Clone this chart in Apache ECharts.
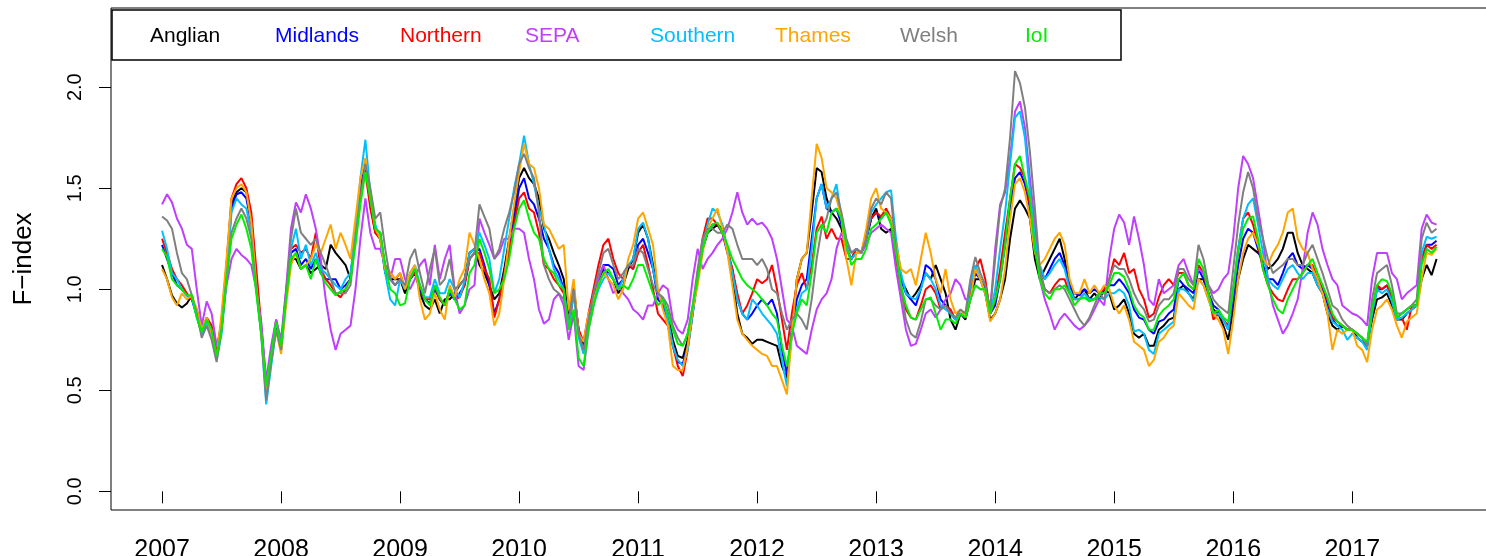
<!DOCTYPE html>
<html>
<head>
<meta charset="utf-8">
<script src="https://cdn.jsdelivr.net/npm/echarts@6/dist/echarts.min.js"></script>
<style>
html, body { margin: 0; padding: 0; background: #fff; }
#main { width: 1486px; height: 556px; }
</style>
</head>
<body>
<div id="main"></div>
<script>
// regions and tick labels
var names = ['Anglian', 'Midlands', 'Northern', 'SEPA', 'Southern', 'Thames', 'Welsh', 'IoI'];
var years = [2007, 2008, 2009, 2010, 2011, 2012, 2013, 2014, 2015, 2016, 2017];
var yTicks = [0, 0.5, 1, 1.5, 2];

var anglian = [
  1.12, 1.05, 0.97, 0.93, 0.91, 0.93, 0.97, 0.88, 0.78, 0.84, 0.80, 0.68, 0.85, 1.12, 1.42, 1.48, 1.50, 1.48, 1.35, 1.05, 0.80, 0.50, 0.65, 0.82,
  0.72, 0.95, 1.15, 1.15, 1.10, 1.12, 1.08, 1.10, 1.12, 1.10, 1.22, 1.18, 1.15, 1.12, 1.05, 1.30, 1.50, 1.60, 1.42, 1.28, 1.25, 1.08, 1.05, 1.05,
  1.05, 0.98, 1.05, 1.10, 0.98, 0.92, 0.90, 0.95, 0.88, 0.95, 0.95, 0.98, 1.02, 1.05, 1.18, 1.20, 1.12, 1.08, 1.02, 0.95, 0.98, 1.10, 1.25, 1.40,
  1.55, 1.60, 1.55, 1.52, 1.45, 1.30, 1.25, 1.18, 1.12, 1.05, 0.85, 1.00, 0.80, 0.72, 0.85, 0.95, 1.02, 1.10, 1.08, 1.05, 0.98, 1.02, 1.10, 1.15,
  1.28, 1.32, 1.25, 1.12, 0.98, 0.95, 0.88, 0.75, 0.67, 0.66, 0.75, 0.90, 1.05, 1.20, 1.28, 1.30, 1.32, 1.30, 1.20, 1.05, 0.88, 0.78, 0.76, 0.73,
  0.75, 0.75, 0.74, 0.73, 0.72, 0.62, 0.56, 0.78, 1.05, 1.15, 1.18, 1.38, 1.60, 1.58, 1.45, 1.38, 1.35, 1.30, 1.20, 1.15, 1.20, 1.18, 1.25, 1.35,
  1.40, 1.30, 1.28, 1.30, 1.18, 1.05, 1.00, 0.95, 0.98, 1.02, 1.08, 1.05, 1.12, 1.05, 0.98, 0.85, 0.80, 0.88, 0.85, 0.95, 1.05, 1.05, 0.98, 0.85,
  0.88, 0.95, 1.05, 1.25, 1.40, 1.44, 1.40, 1.35, 1.15, 1.05, 1.10, 1.15, 1.20, 1.25, 1.15, 1.02, 0.95, 0.98, 1.00, 0.95, 0.98, 0.95, 1.00, 0.98,
  0.90, 0.92, 0.95, 0.88, 0.78, 0.76, 0.78, 0.72, 0.72, 0.80, 0.82, 0.85, 0.86, 1.00, 1.02, 0.98, 0.95, 1.05, 1.05, 0.98, 0.90, 0.88, 0.82, 0.75,
  0.90, 1.05, 1.15, 1.22, 1.20, 1.18, 1.15, 1.10, 1.12, 1.15, 1.20, 1.28, 1.28, 1.18, 1.12, 1.10, 1.08, 1.02, 0.98, 0.88, 0.82, 0.80, 0.82, 0.80,
  0.80, 0.76, 0.74, 0.72, 0.85, 0.95, 0.96, 0.98, 0.92, 0.85, 0.85, 0.88, 0.90, 0.92, 1.05, 1.12, 1.07, 1.15
];
var midlands = [
  1.22, 1.15, 1.08, 1.02, 1.00, 0.97, 0.95, 0.87, 0.78, 0.85, 0.78, 0.66, 0.80, 1.08, 1.40, 1.47, 1.48, 1.45, 1.32, 1.02, 0.80, 0.48, 0.65, 0.82,
  0.70, 0.95, 1.18, 1.20, 1.12, 1.15, 1.10, 1.15, 1.08, 1.05, 1.05, 1.05, 1.00, 1.02, 1.05, 1.30, 1.50, 1.62, 1.45, 1.30, 1.28, 1.10, 1.05, 1.02,
  1.05, 1.00, 1.05, 1.08, 1.00, 0.95, 0.93, 1.00, 0.95, 0.92, 0.98, 0.95, 0.98, 1.02, 1.15, 1.18, 1.20, 1.12, 1.02, 0.88, 0.95, 1.08, 1.20, 1.35,
  1.50, 1.55, 1.45, 1.42, 1.35, 1.25, 1.20, 1.12, 1.08, 1.00, 0.82, 1.02, 0.78, 0.70, 0.85, 0.95, 1.05, 1.12, 1.12, 1.10, 1.02, 1.05, 1.12, 1.10,
  1.22, 1.25, 1.18, 1.10, 0.95, 0.92, 0.85, 0.72, 0.64, 0.63, 0.72, 0.88, 1.05, 1.20, 1.28, 1.32, 1.32, 1.28, 1.18, 1.10, 0.95, 0.88, 0.85, 0.88,
  0.92, 0.95, 0.92, 0.95, 0.88, 0.70, 0.58, 0.80, 0.95, 1.02, 1.05, 1.25, 1.45, 1.52, 1.40, 1.38, 1.40, 1.32, 1.20, 1.15, 1.18, 1.18, 1.25, 1.35,
  1.38, 1.35, 1.38, 1.35, 1.20, 1.05, 0.98, 0.95, 0.92, 1.00, 1.12, 1.10, 1.05, 0.95, 0.92, 0.88, 0.85, 0.88, 0.86, 0.98, 1.08, 1.05, 1.00, 0.88,
  0.92, 1.05, 1.22, 1.40, 1.55, 1.58, 1.52, 1.40, 1.22, 1.10, 1.05, 1.10, 1.15, 1.18, 1.12, 1.02, 0.98, 0.97, 1.00, 0.98, 1.00, 0.98, 0.98, 1.02,
  1.02, 1.05, 1.02, 0.98, 0.90, 0.86, 0.85, 0.80, 0.78, 0.84, 0.85, 0.88, 0.90, 1.05, 1.02, 1.00, 0.98, 1.10, 1.05, 0.98, 0.92, 0.90, 0.85, 0.80,
  0.95, 1.12, 1.25, 1.30, 1.28, 1.20, 1.12, 1.05, 1.05, 1.02, 1.08, 1.15, 1.18, 1.12, 1.10, 1.12, 1.10, 1.05, 1.00, 0.92, 0.85, 0.82, 0.82, 0.80,
  0.80, 0.78, 0.76, 0.72, 0.88, 1.00, 1.00, 1.02, 0.95, 0.86, 0.88, 0.90, 0.92, 0.92, 1.15, 1.22, 1.22, 1.24
];
var northern = [
  1.25, 1.18, 1.10, 1.05, 1.02, 0.98, 0.95, 0.90, 0.80, 0.86, 0.82, 0.68, 0.82, 1.12, 1.45, 1.52, 1.55, 1.50, 1.38, 1.10, 0.82, 0.52, 0.68, 0.85,
  0.72, 0.98, 1.20, 1.22, 1.18, 1.20, 1.15, 1.28, 1.10, 1.05, 1.02, 0.98, 0.96, 1.00, 1.05, 1.28, 1.48, 1.58, 1.40, 1.28, 1.25, 1.12, 1.08, 1.05,
  1.08, 1.00, 1.06, 1.08, 1.02, 0.95, 0.95, 1.02, 0.95, 0.92, 1.00, 0.95, 0.96, 1.02, 1.15, 1.18, 1.18, 1.10, 1.05, 0.86, 0.95, 1.08, 1.18, 1.32,
  1.45, 1.48, 1.40, 1.38, 1.28, 1.12, 1.10, 1.05, 1.02, 0.98, 0.80, 0.98, 0.80, 0.74, 0.88, 1.00, 1.12, 1.22, 1.25, 1.15, 1.08, 1.05, 1.12, 1.10,
  1.18, 1.22, 1.12, 1.00, 0.88, 0.85, 0.82, 0.72, 0.62, 0.57, 0.70, 0.88, 1.08, 1.25, 1.35, 1.35, 1.32, 1.28, 1.20, 1.10, 0.98, 0.88, 0.92, 0.98,
  1.05, 1.03, 1.05, 1.12, 1.00, 0.85, 0.70, 0.88, 1.02, 1.08, 1.00, 1.12, 1.30, 1.36, 1.25, 1.30, 1.25, 1.25, 1.15, 1.15, 1.20, 1.18, 1.28, 1.35,
  1.38, 1.36, 1.40, 1.35, 1.15, 1.00, 0.90, 0.86, 0.85, 0.92, 1.00, 1.02, 0.98, 0.90, 0.92, 0.90, 0.85, 0.88, 0.86, 1.00, 1.10, 1.15, 1.05, 0.88,
  0.95, 1.10, 1.28, 1.45, 1.62, 1.60, 1.55, 1.42, 1.20, 1.08, 1.00, 0.98, 1.02, 1.05, 1.05, 0.98, 0.95, 0.95, 0.98, 0.95, 0.95, 0.98, 1.00, 1.05,
  1.15, 1.12, 1.18, 1.08, 1.10, 1.00, 0.95, 0.86, 0.88, 0.96, 1.02, 1.05, 1.02, 1.08, 1.08, 1.02, 1.00, 1.12, 1.08, 0.98, 0.85, 0.88, 0.85, 0.82,
  1.00, 1.20, 1.35, 1.38, 1.32, 1.22, 1.10, 1.02, 0.98, 0.95, 0.94, 1.00, 1.05, 1.05, 1.08, 1.12, 1.12, 1.05, 1.02, 0.95, 0.86, 0.84, 0.82, 0.80,
  0.80, 0.78, 0.76, 0.72, 0.90, 1.02, 1.00, 1.02, 0.96, 0.85, 0.86, 0.80, 0.92, 0.92, 1.15, 1.22, 1.20, 1.22
];
var sepa = [
  1.42, 1.47, 1.43, 1.35, 1.30, 1.22, 1.20, 1.00, 0.82, 0.94, 0.88, 0.72, 0.82, 1.02, 1.15, 1.20, 1.17, 1.15, 1.12, 1.00, 0.84, 0.55, 0.72, 0.85,
  0.75, 1.00, 1.30, 1.43, 1.38, 1.47, 1.40, 1.30, 1.15, 0.95, 0.80, 0.70, 0.78, 0.80, 0.82, 1.00, 1.25, 1.45, 1.28, 1.20, 1.20, 1.12, 1.05, 1.15,
  1.15, 1.05, 1.00, 1.05, 1.12, 1.15, 1.02, 1.22, 1.05, 1.15, 1.22, 1.00, 0.88, 0.92, 1.00, 1.02, 1.35, 1.28, 1.22, 1.15, 1.18, 1.25, 1.25, 1.30,
  1.30, 1.28, 1.15, 1.05, 0.90, 0.83, 0.85, 0.95, 0.98, 0.92, 0.75, 0.88, 0.62, 0.60, 0.80, 0.92, 1.05, 1.12, 1.05, 0.98, 1.02, 0.98, 0.95, 0.90,
  0.88, 0.85, 0.92, 0.92, 0.98, 1.02, 1.00, 0.85, 0.80, 0.78, 0.85, 1.05, 1.20, 1.10, 1.15, 1.18, 1.22, 1.25, 1.30, 1.38, 1.48, 1.38, 1.32, 1.35,
  1.32, 1.33, 1.30, 1.25, 1.15, 1.00, 0.85, 0.82, 0.72, 0.70, 0.68, 0.80, 0.90, 0.95, 0.98, 1.05, 1.20, 1.28, 1.22, 1.18, 1.20, 1.18, 1.22, 1.28,
  1.30, 1.32, 1.30, 1.28, 1.10, 0.95, 0.80, 0.72, 0.73, 0.80, 0.88, 0.90, 0.86, 0.90, 0.95, 0.98, 1.05, 1.02, 0.95, 0.95, 1.02, 1.00, 1.00, 0.90,
  1.20, 1.42, 1.48, 1.65, 1.88, 1.93, 1.80, 1.55, 1.32, 1.05, 0.95, 0.88, 0.80, 0.85, 0.88, 0.85, 0.82, 0.80, 0.82, 0.85, 0.90, 0.95, 0.92, 1.15,
  1.30, 1.37, 1.33, 1.22, 1.36, 1.25, 1.12, 0.95, 0.92, 1.05, 0.98, 1.00, 1.02, 1.12, 1.15, 1.08, 1.02, 1.10, 1.08, 1.02, 0.98, 1.00, 1.05, 1.08,
  1.25, 1.50, 1.66, 1.62, 1.55, 1.40, 1.25, 1.05, 0.92, 0.85, 0.78, 0.82, 0.88, 0.95, 1.10, 1.28, 1.38, 1.32, 1.20, 1.12, 1.05, 1.02, 0.92, 0.90,
  0.88, 0.87, 0.85, 0.82, 1.05, 1.18, 1.18, 1.18, 1.08, 1.05, 0.95, 0.98, 1.00, 1.02, 1.30, 1.37, 1.33, 1.32
];
var southern = [
  1.29, 1.20, 1.08, 1.05, 1.00, 0.97, 0.96, 0.86, 0.78, 0.84, 0.76, 0.65, 0.78, 1.05, 1.38, 1.45, 1.42, 1.40, 1.28, 1.00, 0.77, 0.43, 0.62, 0.80,
  0.70, 0.95, 1.20, 1.30, 1.15, 1.22, 1.12, 1.18, 1.10, 1.08, 1.05, 1.02, 1.00, 1.05, 1.08, 1.28, 1.55, 1.74, 1.48, 1.32, 1.25, 1.08, 0.95, 0.92,
  1.05, 1.00, 1.08, 1.12, 1.02, 0.96, 0.96, 1.05, 0.98, 0.98, 1.05, 1.00, 0.96, 1.04, 1.18, 1.20, 1.28, 1.22, 1.15, 0.98, 1.05, 1.20, 1.35, 1.50,
  1.62, 1.76, 1.62, 1.52, 1.40, 1.32, 1.20, 1.10, 1.05, 1.00, 0.82, 0.98, 0.76, 0.68, 0.82, 0.92, 1.00, 1.05, 1.08, 1.05, 1.00, 1.05, 1.12, 1.15,
  1.30, 1.33, 1.25, 1.10, 0.98, 0.95, 0.85, 0.72, 0.65, 0.62, 0.70, 0.88, 1.05, 1.22, 1.32, 1.40, 1.38, 1.32, 1.20, 1.08, 0.95, 0.88, 0.85, 0.95,
  0.92, 0.88, 0.85, 0.82, 0.78, 0.65, 0.52, 0.78, 0.90, 0.98, 1.00, 1.20, 1.45, 1.52, 1.40, 1.45, 1.52, 1.35, 1.20, 1.15, 1.18, 1.18, 1.25, 1.38,
  1.42, 1.45, 1.48, 1.49, 1.25, 1.08, 0.98, 0.96, 0.95, 1.00, 1.08, 1.05, 1.00, 0.92, 0.90, 0.88, 0.85, 0.88, 0.86, 1.02, 1.12, 1.05, 0.98, 0.88,
  1.00, 1.20, 1.38, 1.62, 1.85, 1.88, 1.75, 1.48, 1.25, 1.12, 1.05, 1.08, 1.12, 1.15, 1.10, 1.00, 0.95, 0.95, 0.98, 0.95, 0.95, 0.96, 0.95, 0.98,
  0.98, 1.00, 0.98, 0.92, 0.79, 0.80, 0.78, 0.70, 0.68, 0.78, 0.80, 0.82, 0.84, 1.00, 1.00, 0.98, 0.94, 1.05, 1.02, 0.95, 0.88, 0.88, 0.85, 0.80,
  1.00, 1.20, 1.35, 1.42, 1.45, 1.32, 1.18, 1.05, 1.02, 1.00, 1.05, 1.10, 1.12, 1.08, 1.05, 1.08, 1.08, 1.02, 0.98, 0.90, 0.84, 0.82, 0.80, 0.75,
  0.78, 0.76, 0.74, 0.70, 0.88, 1.00, 0.98, 1.00, 0.94, 0.85, 0.86, 0.88, 0.90, 0.92, 1.18, 1.26, 1.25, 1.26
];
var thames = [
  1.10, 1.05, 0.96, 0.92, 0.98, 0.95, 0.97, 0.90, 0.80, 0.86, 0.78, 0.66, 0.88, 1.15, 1.45, 1.50, 1.52, 1.48, 1.33, 1.02, 0.78, 0.50, 0.66, 0.80,
  0.68, 0.92, 1.12, 1.18, 1.10, 1.12, 1.15, 1.22, 1.18, 1.25, 1.32, 1.20, 1.28, 1.22, 1.15, 1.35, 1.55, 1.65, 1.45, 1.30, 1.25, 1.10, 1.08, 1.05,
  1.08, 1.00, 1.08, 1.12, 0.95, 0.85, 0.88, 0.98, 0.90, 0.85, 1.02, 0.96, 1.05, 1.10, 1.28, 1.22, 1.15, 1.05, 0.98, 0.82, 0.88, 1.05, 1.25, 1.42,
  1.58, 1.72, 1.62, 1.60, 1.50, 1.32, 1.30, 1.25, 1.20, 1.22, 0.90, 1.05, 0.78, 0.74, 0.88, 0.95, 1.02, 1.08, 1.05, 1.02, 0.95, 1.00, 1.15, 1.22,
  1.35, 1.38, 1.30, 1.22, 1.00, 0.90, 0.82, 0.62, 0.60, 0.60, 0.72, 0.90, 1.02, 1.18, 1.30, 1.35, 1.40, 1.30, 1.18, 1.02, 0.85, 0.78, 0.75, 0.72,
  0.70, 0.68, 0.67, 0.62, 0.62, 0.55, 0.48, 0.78, 1.05, 1.15, 1.18, 1.45, 1.72, 1.65, 1.50, 1.48, 1.45, 1.35, 1.15, 1.02, 1.18, 1.18, 1.30, 1.45,
  1.50, 1.40, 1.38, 1.35, 1.22, 1.10, 1.08, 1.10, 1.02, 1.15, 1.28, 1.18, 1.05, 0.98, 1.10, 0.95, 0.88, 0.90, 0.86, 0.95, 1.10, 1.05, 0.98, 0.84,
  0.88, 0.95, 1.10, 1.35, 1.52, 1.55, 1.48, 1.35, 1.18, 1.12, 1.15, 1.20, 1.25, 1.28, 1.22, 1.05, 0.98, 0.98, 1.05, 0.98, 1.02, 0.98, 1.02, 1.00,
  0.92, 0.88, 0.92, 0.85, 0.74, 0.72, 0.70, 0.62, 0.65, 0.74, 0.76, 0.80, 0.82, 0.98, 0.95, 0.92, 0.90, 1.05, 1.02, 0.95, 0.88, 0.85, 0.80, 0.68,
  0.85, 1.05, 1.18, 1.25, 1.28, 1.22, 1.15, 1.12, 1.18, 1.22, 1.28, 1.38, 1.40, 1.25, 1.20, 1.18, 1.10, 1.05, 0.98, 0.88, 0.70, 0.80, 0.78, 0.80,
  0.80, 0.72, 0.70, 0.64, 0.80, 0.90, 0.92, 0.95, 0.90, 0.82, 0.76, 0.84, 0.86, 0.88, 1.05, 1.18, 1.17, 1.20
];
var welsh = [
  1.36, 1.34, 1.30, 1.18, 1.08, 1.05, 0.97, 0.88, 0.76, 0.82, 0.75, 0.64, 0.80, 1.05, 1.28, 1.35, 1.40, 1.35, 1.25, 1.00, 0.78, 0.45, 0.64, 0.80,
  0.70, 0.98, 1.25, 1.40, 1.28, 1.25, 1.22, 1.25, 1.18, 1.12, 1.05, 0.98, 0.98, 0.98, 1.02, 1.25, 1.45, 1.62, 1.50, 1.35, 1.38, 1.20, 1.05, 1.02,
  1.05, 1.02, 1.15, 1.20, 1.08, 0.98, 1.10, 1.20, 1.02, 1.05, 1.15, 1.00, 1.02, 1.05, 1.15, 1.18, 1.42, 1.36, 1.30, 1.15, 1.20, 1.30, 1.38, 1.48,
  1.62, 1.67, 1.60, 1.55, 1.38, 1.12, 1.05, 1.00, 0.98, 0.95, 0.85, 1.00, 0.78, 0.70, 0.85, 0.98, 1.08, 1.18, 1.20, 1.12, 1.05, 1.08, 1.12, 1.12,
  1.20, 1.18, 1.10, 1.02, 0.98, 0.96, 0.92, 0.82, 0.76, 0.72, 0.78, 0.92, 1.10, 1.25, 1.30, 1.30, 1.28, 1.28, 1.32, 1.30, 1.22, 1.15, 1.15, 1.15,
  1.12, 1.15, 1.10, 1.00, 0.98, 0.88, 0.80, 0.85, 0.88, 0.85, 0.80, 0.95, 1.15, 1.30, 1.35, 1.45, 1.48, 1.38, 1.25, 1.18, 1.20, 1.18, 1.25, 1.40,
  1.45, 1.42, 1.48, 1.45, 1.20, 1.00, 0.85, 0.78, 0.76, 0.84, 0.95, 0.95, 0.92, 0.90, 0.92, 0.88, 0.86, 0.90, 0.88, 1.05, 1.16, 1.08, 1.02, 0.90,
  1.15, 1.40, 1.50, 1.75, 2.08, 2.02, 1.90, 1.68, 1.40, 1.10, 1.00, 0.98, 1.00, 1.02, 1.00, 0.95, 0.90, 0.85, 0.82, 0.86, 0.92, 0.98, 0.95, 1.05,
  1.12, 1.10, 1.10, 1.05, 0.98, 0.93, 0.90, 0.84, 0.85, 0.92, 0.95, 0.95, 0.98, 1.10, 1.10, 1.05, 1.02, 1.22, 1.15, 1.02, 0.95, 0.92, 0.90, 0.88,
  1.10, 1.32, 1.48, 1.58, 1.50, 1.35, 1.25, 1.15, 1.08, 1.10, 1.12, 1.15, 1.15, 1.12, 1.12, 1.18, 1.22, 1.15, 1.08, 1.00, 0.92, 0.90, 0.85, 0.82,
  0.80, 0.78, 0.76, 0.72, 0.95, 1.08, 1.10, 1.12, 1.02, 0.88, 0.88, 0.90, 0.92, 0.95, 1.25, 1.33, 1.28, 1.30
];
var ioi = [
  1.20, 1.16, 1.05, 1.02, 1.00, 0.97, 0.97, 0.86, 0.79, 0.85, 0.80, 0.67, 0.80, 1.05, 1.25, 1.32, 1.37, 1.30, 1.20, 0.98, 0.78, 0.52, 0.68, 0.84,
  0.72, 0.95, 1.15, 1.18, 1.10, 1.12, 1.05, 1.15, 1.08, 1.03, 1.00, 0.97, 0.99, 1.00, 1.05, 1.22, 1.42, 1.58, 1.45, 1.30, 1.28, 1.12, 1.00, 0.98,
  0.92, 0.93, 1.05, 1.10, 1.02, 0.95, 0.92, 1.02, 0.96, 0.92, 1.00, 0.95, 0.90, 0.92, 1.08, 1.12, 1.25, 1.18, 1.10, 0.98, 1.00, 1.05, 1.15, 1.30,
  1.40, 1.44, 1.35, 1.28, 1.25, 1.15, 1.10, 1.08, 1.02, 1.00, 0.80, 0.90, 0.66, 0.62, 0.80, 0.92, 1.02, 1.08, 1.10, 1.05, 1.00, 1.02, 1.00, 1.05,
  1.12, 1.12, 1.05, 0.98, 0.92, 0.95, 0.88, 0.80, 0.73, 0.72, 0.78, 0.92, 1.05, 1.20, 1.28, 1.32, 1.33, 1.28, 1.22, 1.15, 1.10, 1.05, 1.02, 1.00,
  0.98, 0.95, 0.92, 0.88, 0.85, 0.72, 0.62, 0.78, 0.88, 0.95, 0.92, 1.08, 1.28, 1.32, 1.28, 1.38, 1.40, 1.35, 1.22, 1.12, 1.15, 1.15, 1.20, 1.30,
  1.32, 1.35, 1.38, 1.32, 1.18, 1.02, 0.92, 0.86, 0.85, 0.90, 0.95, 0.96, 0.88, 0.80, 0.85, 0.85, 0.83, 0.88, 0.86, 0.95, 1.02, 1.00, 1.00, 0.88,
  0.95, 1.05, 1.22, 1.45, 1.62, 1.66, 1.55, 1.45, 1.20, 1.05, 0.98, 0.95, 1.00, 1.00, 1.02, 0.98, 0.92, 0.95, 0.96, 0.94, 0.95, 0.98, 0.98, 1.02,
  1.08, 1.08, 1.06, 1.00, 0.92, 0.88, 0.86, 0.80, 0.80, 0.87, 0.90, 0.92, 0.95, 1.05, 1.08, 1.02, 1.00, 1.15, 1.10, 0.98, 0.88, 0.90, 0.86, 0.84,
  1.00, 1.18, 1.30, 1.35, 1.36, 1.25, 1.10, 1.02, 0.95, 0.90, 0.88, 0.95, 1.00, 1.05, 1.08, 1.12, 1.15, 1.08, 1.02, 0.96, 0.88, 0.84, 0.82, 0.80,
  0.80, 0.78, 0.76, 0.74, 0.90, 1.02, 1.05, 1.04, 0.98, 0.86, 0.88, 0.90, 0.92, 0.92, 1.12, 1.20, 1.18, 1.21
];

var colors = ['#000000', '#0000FF', '#FF0000', '#BF3EFF', '#00BFFF', '#FFA500', '#7F7F7F', '#00EE00'];
var font = 'Liberation Sans, Arial, Helvetica, sans-serif';

function halfMonths(values) {
  // each value is one half-month step after Jan 2007
  return values.map(function (v, k) { return [2007 + k / 24, v]; });
}

var chart = echarts.init(document.getElementById('main'), null, { renderer: 'canvas' });
var all = [anglian, midlands, northern, sepa, southern, thames, welsh, ioi];

var option = {
  animation: false,
  backgroundColor: '#fff',
  textStyle: { fontFamily: font },
  grid: {
    left: 111, top: 8, right: -3, bottom: 46,
    outerBoundsMode: 'none',
    show: true, borderColor: '#000', borderWidth: 1
  },
  legend: names.map(function (n, i) {
    return {
      left: 145 + 125 * i, top: 26, padding: 0,
      icon: 'none', itemWidth: 0, itemHeight: 0,
      selectedMode: false,
      textStyle: { fontSize: 21, fontFamily: font, color: colors[i] },
      data: [n]
    };
  }),
  graphic: [{
    type: 'rect', z: -1,
    shape: { x: 112, y: 10, width: 1009, height: 50 },
    style: { fill: '#fff', stroke: '#000', lineWidth: 1.5 }
  }],
  xAxis: {
    type: 'value', min: 2006.571, max: 2018.149,
    axisLine: { show: false },
    splitLine: { show: false },
    axisTick: { show: true, length: 12, customValues: years, lineStyle: { color: '#000', width: 1 } },
    axisLabel: {
      customValues: years, fontSize: 25, color: '#000', margin: 28, fontFamily: font,
      formatter: function (v) { return String(v); }
    }
  },
  yAxis: {
    type: 'value', min: -0.0924, max: 2.392,
    name: 'F\u2212index', nameLocation: 'middle', nameRotate: 90, nameGap: 74,
    nameTextStyle: { fontSize: 26, color: '#000', fontFamily: font },
    axisLine: { show: false },
    splitLine: { show: false },
    axisTick: { show: true, length: 12, customValues: yTicks, lineStyle: { color: '#000', width: 1 } },
    axisLabel: {
      customValues: yTicks, rotate: 90, fontSize: 20, color: '#000', margin: 26, fontFamily: font,
      formatter: function (v) { return v.toFixed(1); }
    }
  },
  series: all.map(function (vals, i) {
    return {
      name: names[i],
      type: 'line',
      showSymbol: false,
      symbol: 'none',
      silent: true,
      lineStyle: { width: 2, color: colors[i] },
      itemStyle: { color: colors[i] },
      data: halfMonths(vals)
    };
  })
};

chart.setOption(option);
</script>
</body>
</html>
